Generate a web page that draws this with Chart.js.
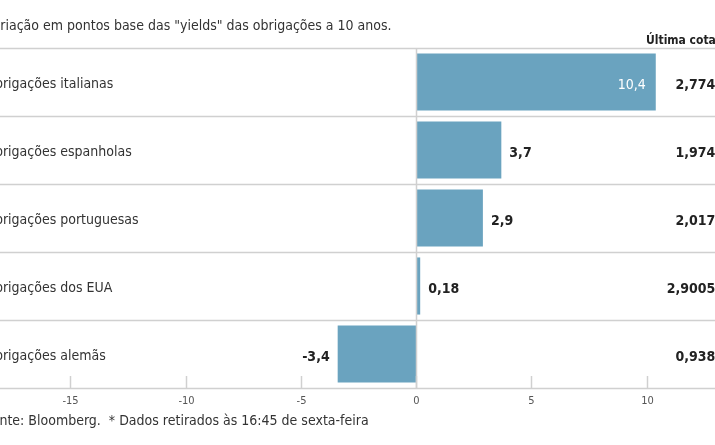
<!DOCTYPE html>
<html>
<head>
<meta charset="utf-8">
<script src="https://cdn.jsdelivr.net/npm/chart.js@4"></script>
<style>
  html, body { margin: 0; padding: 0; background: #fff; }
  #wrap { width: 715px; height: 445px; position: relative; }
</style>
</head>
<body>
<div id="wrap"><canvas id="chart"></canvas></div>
<script>
const categories = ["Obrigações italianas", "Obrigações espanholas", "Obrigações portuguesas", "Obrigações dos EUA", "Obrigações alemãs"];
const changes = [10.4, 3.7, 2.9, 0.18, -3.4];
const lastQuotes = ["2,774%", "1,974%", "2,017%", "2,9005%", "0,938%"];
const tickValues = [-15, -10, -5, 0, 5, 10];

const FONT = '"Liberation Sans Narrow", "DejaVu Sans Condensed", sans-serif';
const fmt = (v) => String(v).replace(".", ",");

const decor = {
  id: "decor",
  afterDatasetsDraw(chart) {
    const { ctx, chartArea: a, scales: { x, y } } = chart;
    ctx.save();
    // row separators
    ctx.strokeStyle = "#d0d0d0";
    ctx.lineWidth = 1.5;
    const step = (a.bottom - a.top) / categories.length;
    for (let i = 0; i <= categories.length; i++) {
      const yy = Math.round(a.top + i * step) + 0.5;
      ctx.beginPath(); ctx.moveTo(0, yy); ctx.lineTo(715, yy); ctx.stroke();
    }
    // zero line
    const x0 = Math.round(x.getPixelForValue(0)) + 0.5;
    ctx.beginPath(); ctx.moveTo(x0, a.top); ctx.lineTo(x0, a.bottom); ctx.stroke();
    // bottom ticks and labels
    ctx.font = "11px " + FONT;
    ctx.fillStyle = "#555";
    ctx.textAlign = "center";
    ctx.textBaseline = "top";
    tickValues.forEach((t) => {
      const xx = Math.round(x.getPixelForValue(t)) + 0.5;
      ctx.beginPath(); ctx.moveTo(xx, a.bottom - 12); ctx.lineTo(xx, a.bottom); ctx.stroke();
      ctx.fillText(String(t), xx, a.bottom + 8);
    });
    // row labels and values
    ctx.textBaseline = "middle";
    categories.forEach((c, i) => {
      const yc = y.getPixelForValue(i);
      ctx.font = "14px " + FONT;
      ctx.fillStyle = "#333";
      ctx.textAlign = "left";
      ctx.fillText(c, -15, yc + 2);
      const v = changes[i];
      const xe = x.getPixelForValue(v);
      if (v >= 5) {
        ctx.fillStyle = "#fff";
        ctx.textAlign = "right";
        ctx.fillText(fmt(v), xe - 10, yc + 3);
      } else if (v >= 0) {
        ctx.font = "bold 14px " + FONT;
        ctx.fillStyle = "#222";
        ctx.textAlign = "left";
        ctx.fillText(fmt(v), xe + 8, yc + 3);
      } else {
        ctx.font = "bold 14px " + FONT;
        ctx.fillStyle = "#222";
        ctx.textAlign = "right";
        ctx.fillText(fmt(v), xe - 8, yc + 3);
      }
      ctx.font = "bold 14px " + FONT;
      ctx.fillStyle = "#222";
      ctx.textAlign = "right";
      ctx.fillText(lastQuotes[i], 728, yc + 3);
    });
    // header, title, footer
    ctx.font = '14px ' + FONT;
    ctx.fillStyle = "#333";
    ctx.textAlign = "left";
    ctx.textBaseline = "alphabetic";
    ctx.fillText('Variação em pontos base das "yields" das obrigações a 10 anos.', -15, 30);
    ctx.font = "bold 12px " + FONT;
    ctx.fillStyle = "#222";
    ctx.fillText("Última cotação*", 646, 44);
    ctx.font = "14px " + FONT;
    ctx.fillStyle = "#333";
    ctx.fillText("Fonte: Bloomberg.  * Dados retirados às 16:45 de sexta-feira", -15, 425);
    ctx.restore();
  },
};

new Chart(document.getElementById("chart"), {
  type: "bar",
  data: {
    labels: categories,
    datasets: [{
      data: changes,
      backgroundColor: "#6aa3bf",
      borderWidth: 0,
      barPercentage: 0.84,
      categoryPercentage: 1,
    }],
  },
  options: {
    indexAxis: "y",
    responsive: true,
    maintainAspectRatio: false,
    animation: false,
    layout: { padding: { top: 48, bottom: 57, left: 0, right: 0 } },
    plugins: { legend: { display: false }, tooltip: { enabled: false } },
    scales: {
      x: { display: false, min: -18.05, max: 12.97 },
      y: { display: false },
    },
  },
  plugins: [decor],
});
</script>
</body>
</html>
